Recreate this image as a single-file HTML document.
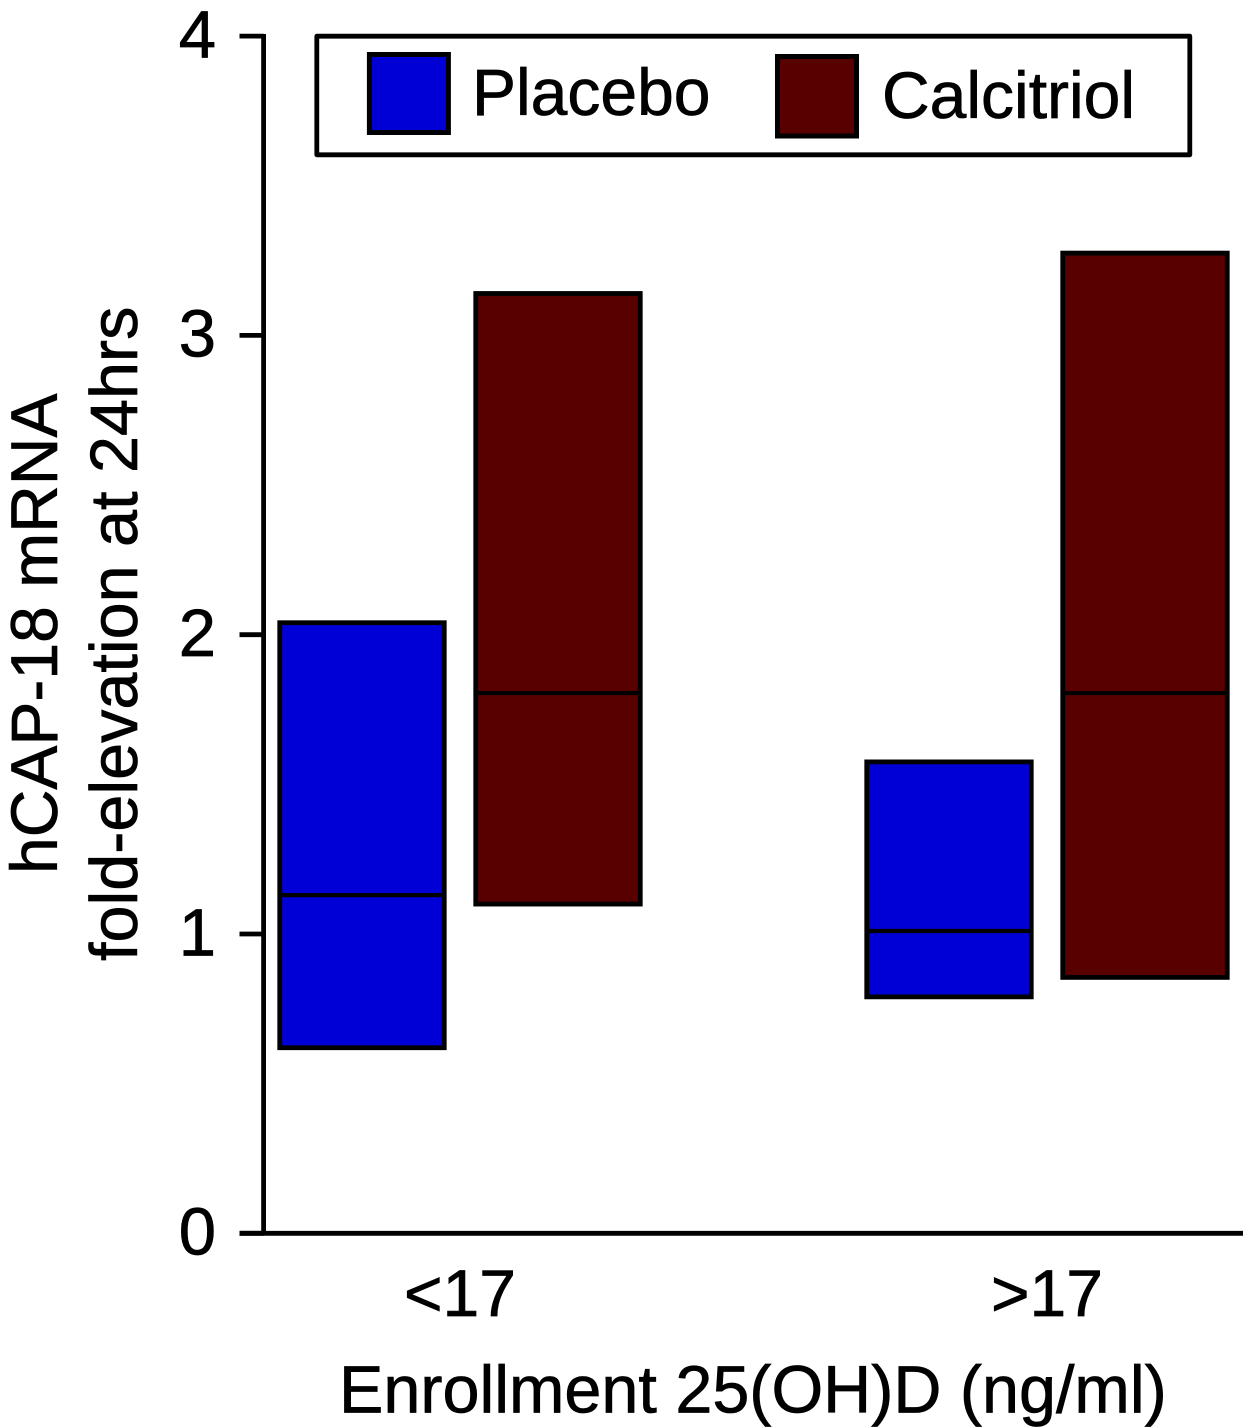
<!DOCTYPE html>
<html lang="en">
<head>
<meta charset="utf-8">
<title>hCAP-18 mRNA chart</title>
<style>
html,body{margin:0;padding:0;background:#fff;width:1243px;height:1428px;overflow:hidden}
svg{display:block}
text{font-family:"Liberation Sans",sans-serif;fill:#000;stroke:#000;stroke-width:0.7px;font-kerning:none}
</style>
</head>
<body>
<svg id="chart" xmlns="http://www.w3.org/2000/svg" width="1243" height="1428" viewBox="0 0 1243 1428">
  <rect x="0" y="0" width="1243" height="1428" fill="#fff"/>
  <g id="bars"></g>
  <g id="axes">
    <line x1="263.6" y1="34" x2="263.6" y2="1235.5" stroke="#000" stroke-width="4.8"/>
    <line x1="239.5" y1="1233.3" x2="1243" y2="1233.3" stroke="#000" stroke-width="4.8"/>
  </g>
  <text transform="translate(57,874) rotate(-90)" font-size="66">hCAP-18 mRNA</text>
  <text transform="translate(137,961) rotate(-90)" font-size="66.5">fold-elevation at 24hrs</text>
  <text x="339" y="1412.5" font-size="66.5">Enrollment 25(OH)D (ng/ml)</text>
  <g>
    <rect x="316.8" y="36.2" width="873" height="118.6" fill="#fff" stroke="#000" stroke-width="4.8" stroke-linejoin="round"/>
    <rect x="369.4" y="54.5" width="79" height="78" fill="#0000d6" stroke="#000" stroke-width="5"/>
    <text x="472" y="115" font-size="66">Placebo</text>
    <rect x="777.5" y="56.5" width="79" height="79.5" fill="#580000" stroke="#000" stroke-width="5"/>
    <text x="882" y="118" font-size="66">Calcitriol</text>
  </g>
</svg>
<script>
const categories = ["<17", ">17"];
const seriesNames = ["Placebo", "Calcitriol"];
const placeboLow = [0.62, 0.79];
const placeboMedian = [1.13, 1.01];
const placeboHigh = [2.04, 1.575];
const calcitriolLow = [1.10, 0.855];
const calcitriolMedian = [1.805, 1.805];
const calcitriolHigh = [3.14, 3.275];
const yTickValues = [0, 1, 2, 3, 4];

const NS = "http://www.w3.org/2000/svg";
const barsGroup = document.getElementById("bars");
const axesGroup = document.getElementById("axes");
const chartRoot = document.getElementById("chart");

function yScale(v) { return 1233.3 - v * 299.3; }
function xBand(i) { return 460 + i * 587; }
function seriesOffset(s) { return s === 0 ? -98 : 98; }

function make(tag, attrs) {
  const el = document.createElementNS(NS, tag);
  for (const k in attrs) el.setAttribute(k, attrs[k]);
  return el;
}

const barWidth = 164.5;
const seriesFill = ["#0000d6", "#580000"];
const lows = [placeboLow, calcitriolLow];
const medians = [placeboMedian, calcitriolMedian];
const highs = [placeboHigh, calcitriolHigh];

categories.forEach(function (cat, i) {
  seriesNames.forEach(function (name, s) {
    const cx = xBand(i) + seriesOffset(s);
    const top = yScale(highs[s][i]);
    const bottom = yScale(lows[s][i]);
    const box = make("rect", {
      x: cx - barWidth / 2, y: top, width: barWidth, height: bottom - top,
      fill: seriesFill[s], stroke: "#000", "stroke-width": 4.8
    });
    
    
    barsGroup.appendChild(box);
    const med = yScale(medians[s][i]);
    const line = make("line", {
      x1: cx - barWidth / 2, x2: cx + barWidth / 2, y1: med, y2: med,
      stroke: "#000", "stroke-width": 4.2
    });
    
    
    barsGroup.appendChild(line);
  });
  const label = make("text", {
    x: xBand(i), y: 1316, "font-size": 66, "text-anchor": "middle"
  });
  
  
  label.textContent = cat;
  chartRoot.appendChild(label);
});

yTickValues.forEach(function (v) {
  const y = yScale(v);
  const tick = make("line", { x1: 239.5, x2: 263.6, y1: y, y2: y, stroke: "#000", "stroke-width": 4.8 });
  
  
  axesGroup.appendChild(tick);
  const label = make("text", { x: 216, y: y + 21.3, "font-size": 67, "text-anchor": "end" });
  
  
  label.textContent = String(v);
  chartRoot.appendChild(label);
});
</script>
</body>
</html>
